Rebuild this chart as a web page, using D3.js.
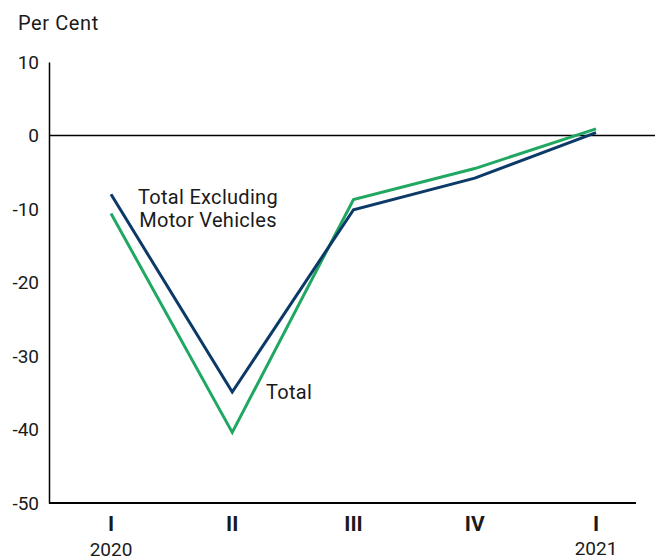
<!DOCTYPE html>
<html>
<head>
<meta charset="utf-8">
<script src="https://cdn.jsdelivr.net/npm/d3@7"></script>
<style>
  html, body { margin: 0; padding: 0; background: #fff; }
  svg text { font-family: Roboto, "Noto Sans", sans-serif; fill: #1a1a1a; }
</style>
</head>
<body>
<svg id="chart" width="655" height="560"></svg>
<script>
// Quarterly change, per cent
const quarters = ["I", "II", "III", "IV", "I"];
const years = ["2020", "", "", "", "2021"];
const totalExMotor = [-8.0, -34.9, -10.1, -5.8, 0.4];
const total = [-10.6, -40.4, -8.7, -4.5, 0.9];
const yTicks = [10, 0, -10, -20, -30, -40, -50];

const svg = d3.select("#chart");
const plot = { left: 49, right: 655, top: 62, bottom: 503 };

const x = d3.scalePoint().domain(d3.range(quarters.length)).range([111, 596]);
const y = d3.scaleLinear().domain([-50, 10]).range([plot.bottom, plot.top]);

// y axis, plain hyphen for negatives
const yAxis = d3.axisLeft(y).tickValues(yTicks).tickSize(0).tickPadding(10)
  .tickFormat(d => String(d));
const gy = svg.append("g").attr("transform", `translate(${plot.left},0)`).call(yAxis);
gy.select(".domain").attr("stroke", "#000").attr("stroke-width", 1.5);
gy.selectAll("text").style("font-size", "19px").style("font-family", "Roboto, sans-serif").attr("fill", "#1a1a1a");

// zero line
svg.append("line")
  .attr("x1", plot.left).attr("x2", plot.right)
  .attr("y1", y(0)).attr("y2", y(0))
  .attr("stroke", "#000").attr("stroke-width", 1.5);

// bottom axis
svg.append("line")
  .attr("x1", plot.left).attr("x2", 636)
  .attr("y1", y(-50)).attr("y2", y(-50))
  .attr("stroke", "#000").attr("stroke-width", 2);

// quarter labels
svg.selectAll(".q").data(quarters).join("text")
  .attr("class", "q")
  .attr("x", (d, i) => x(i)).attr("y", 531)
  .attr("text-anchor", "middle")
  .style("font-size", "21px").style("font-weight", "bold")
  .text(d => d);

// year labels
svg.selectAll(".yr").data(years).join("text")
  .attr("class", "yr")
  .attr("x", (d, i) => x(i)).attr("y", (d, i) => i === 0 ? 556 : 555)
  .attr("text-anchor", "middle")
  .style("font-size", "19px")
  .text(d => d);

// unit label
svg.append("text").attr("x", 18).attr("y", 30)
  .style("font-size", "20px").style("letter-spacing", "0.6px").text("Per Cent");

const line = d3.line().x((d, i) => x(i)).y(d => y(d));

svg.append("path").datum(total)
  .attr("d", line).attr("fill", "none")
  .attr("stroke", "#20a862").attr("stroke-width", 3);

svg.append("path").datum(totalExMotor)
  .attr("d", line).attr("fill", "none")
  .attr("stroke", "#0b3a68").attr("stroke-width", 3);

// series labels
const lab = svg.append("text").attr("text-anchor", "middle")
  .style("font-size", "20px").style("letter-spacing", "0.3px");
lab.append("tspan").attr("x", 208).attr("y", 204).text("Total Excluding");
lab.append("tspan").attr("x", 208).attr("y", 227).text("Motor Vehicles");

svg.append("text").attr("x", 266).attr("y", 399)
  .style("font-size", "20px").style("letter-spacing", "0.3px").text("Total");
</script>
</body>
</html>
